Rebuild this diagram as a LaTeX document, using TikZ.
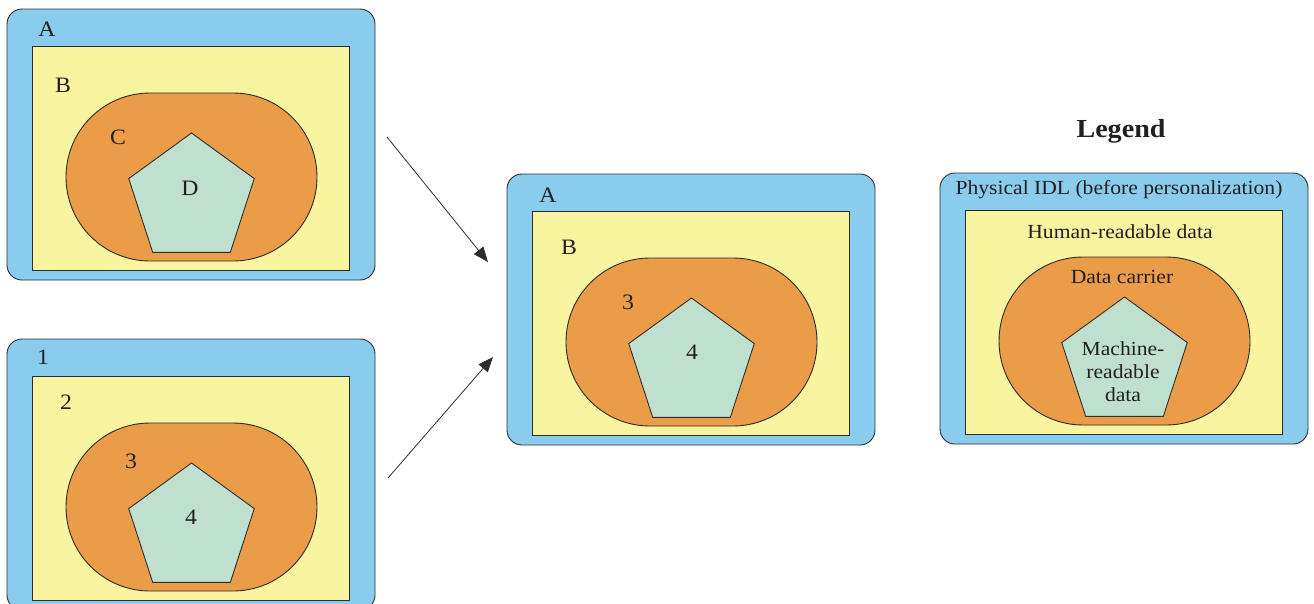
\documentclass[tikz,border=0pt]{standalone}
\usepackage{fontspec}
\setmainfont{Liberation Serif}[FakeStretch=1.08]
\usetikzlibrary{shapes.geometric,arrows.meta}
\definecolor{cblue}{RGB}{137,204,238}
\definecolor{cyellow}{RGB}{248,244,160}
\definecolor{corange}{RGB}{234,156,72}
\definecolor{cgreen}{RGB}{192,224,207}
\definecolor{cline}{RGB}{45,45,45}
\definecolor{ctext}{RGB}{35,31,32}
\tikzset{
  bluebox/.style={draw=cline, line width=0.9pt, fill=cblue, rounded corners=15pt, minimum width=368pt, minimum height=271pt, inner sep=0pt},
  yellowbox/.style={draw=cline, line width=0.9pt, fill=cyellow, minimum width=317pt, minimum height=224pt, inner sep=0pt},
  orangebox/.style={draw=cline, line width=0.9pt, fill=corange, rounded corners=84pt, minimum width=251pt, minimum height=168pt, inner sep=0pt},
  pentabox/.style={draw=cline, line width=0.9pt, fill=cgreen, regular polygon, regular polygon sides=5, minimum size=132pt, inner sep=0pt},
  lbl/.style={text=ctext, font=\fontsize{22}{25}\selectfont, inner sep=0pt},
  leg/.style={text=ctext, font=\fontsize{20}{23}\selectfont, inner sep=0pt, align=center},
  flow/.style={draw=cline, line width=0.8pt, -{Triangle[length=15pt,width=12pt]}}
}
\newcommand\idcard[3]{%
  \node[bluebox] (#1-blue) at (#2+184, -#3-135.5) {};
  \node[yellowbox] (#1-yellow) at (#2+183.5, -#3-149) {};
  \node[orangebox] (#1-orange) at (#2+184.5, -#3-168) {};
  \node[pentabox] (#1-penta) at (#2+184.5, -#3-190) {};
}
\begin{document}
\begin{tikzpicture}[x=1pt,y=1pt]
\useasboundingbox (0,0) rectangle (1314,-603);
\clip (0,0) rectangle (1314,-603);

\idcard{tl}{7}{9}
\idcard{bl}{7}{339}
\idcard{mid}{507}{174}
\idcard{lg}{940}{173}

% top-left labels
\node[lbl] (tlA) at (47,-29) {A};
\node[lbl] (tlB) at (63,-85) {B};
\node[lbl] (tlC) at (118,-137) {C};
\node[lbl] (tlD) at (190,-188) {D};
% bottom-left labels
\node[lbl] (bl1) at (43,-357) {1};
\node[lbl] (bl2) at (66,-402) {2};
\node[lbl] (bl3) at (131,-461) {3};
\node[lbl] (bl4) at (191,-517) {4};
% middle labels
\node[lbl] (midA) at (548,-195) {A};
\node[lbl] (midB) at (569,-247) {B};
\node[lbl] (mid3) at (628,-302) {3};
\node[lbl] (mid4) at (692,-352) {4};
% legend
\node[text=ctext, font=\bfseries\fontsize{26}{30}\selectfont, inner sep=0pt] (legtitle) at (1121,-131) {Legend};
\node[leg] (lgA) at (1119,-190) {Physical IDL (before personalization)};
\node[leg] (lgB) at (1120,-232) {Human-readable data};
\node[leg] (lgC) at (1122,-277) {Data carrier};
\node[leg] (lgD) at (1123,-372) {Machine-\\readable\\data};

% arrows
\coordinate (a1s) at (387,-137);
\coordinate (a1e) at (488,-262);
\coordinate (a2s) at (388,-478);
\coordinate (a2e) at (493,-357);
\draw[flow] (a1s) -- (a1e);
\draw[flow] (a2s) -- (a2e);
\end{tikzpicture}
\end{document}
